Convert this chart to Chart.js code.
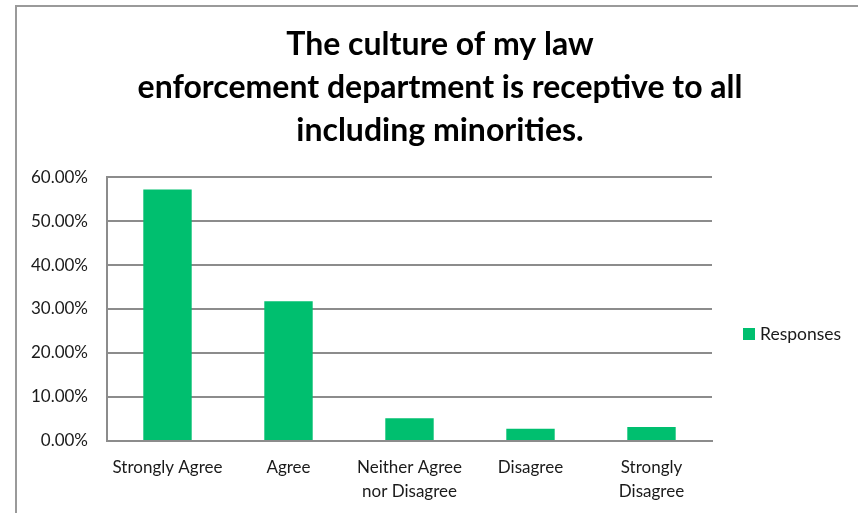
<!DOCTYPE html>
<html>
<head>
<meta charset="utf-8">
<script src="https://cdn.jsdelivr.net/npm/chart.js@4"></script>
<style>
  html, body { margin: 0; padding: 0; background: #fff; overflow: hidden; }
  #frame { position: absolute; left: 15px; top: 5px; width: 900px; height: 600px;
           border-left: 2px solid #9a9a9a; border-top: 2px solid #9a9a9a; }
  #wrap { position: absolute; left: 0; top: 0; width: 858px; height: 513px; }
</style>
</head>
<body>
<div id="frame"></div>
<div id="wrap"><canvas id="chart" width="858" height="513"></canvas></div>
<script>
// data
const categories = ['Strongly Agree', 'Agree', ['Neither Agree', 'nor Disagree'], 'Disagree', ['Strongly', 'Disagree']];
const responses = [57.14, 31.75, 5.16, 2.78, 3.17];
const seriesName = 'Responses';
const titleLines = ['The culture of my law', 'enforcement department is receptive to all', 'including minorities.'];

const green = '#00bf6f';
const gray = '#8c8c8c';
const textColor = '#1a1a1a';

// legend drawn by hand in the space kept free on the right
const sideLegend = {
    id: 'sideLegend',
    afterDraw(chart) {
        const ctx = chart.ctx;
        const ds = chart.data.datasets[0];
        ctx.save();
        ctx.fillStyle = ds.backgroundColor;
        ctx.fillRect(743, 328, 12, 12);
        ctx.fillStyle = textColor;
        ctx.font = '17.5px Lato';
        ctx.textBaseline = 'middle';
        ctx.textAlign = 'left';
        ctx.fillText(ds.label, 760, 334);
        ctx.restore();
    }
};

new Chart(document.querySelector('#chart').getContext('2d'), {
    type: 'bar',
    data: {
        labels: categories,
        datasets: [{
            label: seriesName,
            data: responses,
            backgroundColor: green,
            borderWidth: 0,
            barPercentage: 0.4,
            categoryPercentage: 1
        }]
    },
    options: {
        responsive: false,
        animation: false,
        layout: { padding: { left: 22, right: 0, top: 0, bottom: 0 } },
        plugins: {
            legend: { display: false },
            tooltip: { enabled: false },
            title: {
                display: true,
                text: titleLines,
                color: '#000',
                font: { family: 'Lato', weight: 'bold', size: 32, lineHeight: 1.344 },
                padding: { top: 23.5, bottom: 24.5 }
            }
        },
        scales: {
            x: {
                grid: { display: false, drawTicks: false },
                border: { color: gray, width: 2 },
                ticks: { color: textColor, padding: 15, maxRotation: 0, autoSkip: false,
                         font: { family: 'Lato', size: 17, lineHeight: 1.41 } },
                afterFit: s => { s.height = 72; }
            },
            y: {
                min: 0, max: 60,
                ticks: { stepSize: 10, color: textColor, padding: 19,
                         font: { family: 'Lato', size: 17 },
                         callback: v => v.toFixed(2) + '%' },
                grid: { color: gray, lineWidth: 2, drawTicks: false },
                border: { color: gray, width: 2 },
                afterFit: s => { s.width = 85; }
            },
            spacer: {
                type: 'linear',
                position: 'right',
                ticks: { display: false },
                grid: { display: false, drawTicks: false },
                border: { display: false },
                afterFit: s => { s.width = 146; }
            }
        }
    },
    plugins: [sideLegend]
});
</script>
</body>
</html>
